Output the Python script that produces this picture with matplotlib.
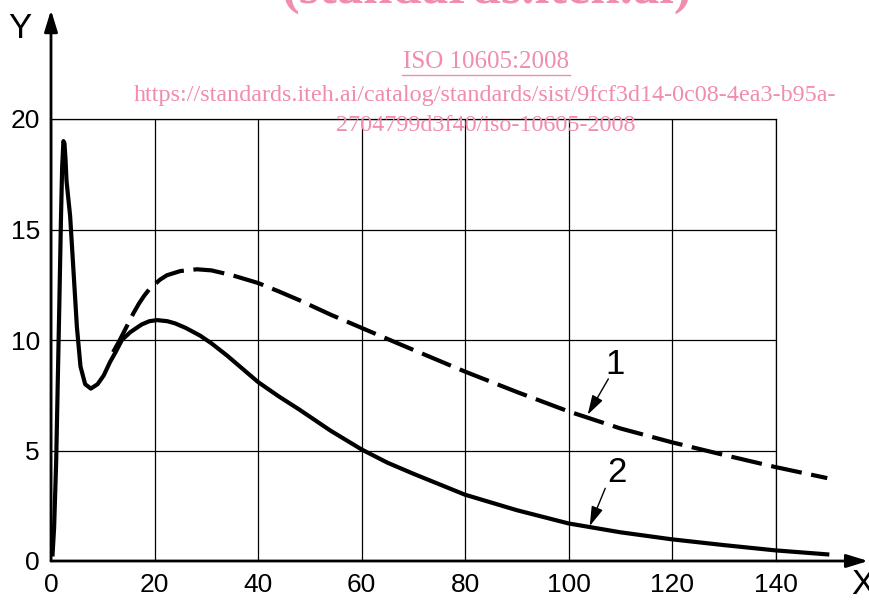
import matplotlib
matplotlib.use('Agg')
import matplotlib.pyplot as plt

# кривая 2 (сплошная)
x2 = [0.3, 0.6, 1.0, 1.3, 1.6, 1.9, 2.15, 2.4, 2.6, 2.8, 3.0, 3.7, 4.3, 5.0, 5.7,
      6.6, 7.7, 9.0, 10.2, 11.4, 12.6, 13.7, 15.3, 17.5, 19.0, 20.5, 22.5, 24.0, 26.0,
      28.8, 31.0, 34.0, 37.0, 40.0, 44.0, 48.0, 54.0, 60.0, 65.0, 70.0, 80.0, 90.0,
      100.0, 110.0, 120.0, 130.0, 140.0, 150.0]
y2 = [0.3, 1.5, 4.5, 8.0, 11.5, 15.2, 17.8, 19.0, 18.9, 18.2, 17.2, 15.6, 13.3, 10.6, 8.8,
      8.0, 7.8, 8.0, 8.4, 9.0, 9.5, 10.0, 10.35, 10.7, 10.85, 10.9, 10.85, 10.75, 10.55,
      10.2, 9.85, 9.3, 8.7, 8.1, 7.45, 6.85, 5.9, 5.05, 4.45, 3.95, 3.0, 2.3,
      1.7, 1.3, 0.98, 0.72, 0.48, 0.3]

# кривая 1 (штриховая)
x1 = [12.0, 13.3, 15.9, 17.0, 18.0, 19.0, 20.0, 21.0, 22.4, 25.0, 28.2, 31.0, 35.0,
      40.0, 44.0, 48.0, 54.0, 60.0, 67.0, 80.0, 90.0, 100.0, 110.0, 120.0, 130.0,
      140.0, 150.0]
y1 = [9.45, 10.0, 11.2, 11.65, 12.0, 12.3, 12.5, 12.72, 12.93, 13.12, 13.2, 13.15, 12.93,
      12.58, 12.2, 11.8, 11.15, 10.55, 9.85, 8.57, 7.65, 6.77, 6.0, 5.37, 4.8,
      4.25, 3.75]

x_ticks = [0, 20, 40, 60, 80, 100, 120, 140]
y_ticks = [0, 5, 10, 15, 20]

pink = '#f08cb0'
sans = ['Liberation Sans', 'DejaVu Sans']
serif = ['Liberation Serif', 'DejaVu Serif']

W, H = 869, 603
fig = plt.figure(figsize=(W / 100, H / 100), dpi=100)
# x: 0 -> 51 px, 5.175 px/unit ; y: 0 -> 561 px, 22.1 px/unit
ax = fig.add_axes([51 / W, (H - 561) / H, 140 * 5.175 / W, 20 * 22.1 / H])
ax.set_xlim(0, 140)
ax.set_ylim(0, 20)

ax.set_xticks(x_ticks)
ax.set_yticks(y_ticks)
ax.set_xticklabels([str(v) for v in x_ticks], fontsize=19, family=sans)
ax.set_yticklabels([str(v) for v in y_ticks], fontsize=19, family=sans)
ax.tick_params(axis='x', length=0, pad=9)
ax.tick_params(axis='y', length=0, pad=8)
ax.grid(True, color='black', linewidth=0.9)
ax.set_axisbelow(True)
for s in ['left', 'bottom']:
    ax.spines[s].set_visible(False)
for s in ['top', 'right']:
    ax.spines[s].set_linewidth(0.9)

ax.plot(x2, y2, color='black', lw=3.0, solid_joinstyle='round', clip_on=False)
ax.plot(x1, y1, color='black', lw=3.0, dashes=(7.5, 2.3), clip_on=False)

# оси со стрелками
arr = dict(arrowstyle='-|>,head_length=0.65,head_width=0.2', lw=2, color='black',
           mutation_scale=20, shrinkA=0, shrinkB=0)
ax.annotate('', xy=(157.9, 0), xytext=(0, 0), arrowprops=arr, annotation_clip=False)
ax.annotate('', xy=(0, 24.93), xytext=(0, 0), arrowprops=arr, annotation_clip=False)
fig.text(20 / W, 1 - 28 / H, 'Y', fontsize=25, family=sans, ha='center', va='center')
fig.text(863 / W, 1 - 585 / H, 'X', fontsize=25, family=sans, ha='center', va='center')

# выноски
lead = dict(arrowstyle='-|>,head_length=0.6,head_width=0.18', lw=1, color='black',
            mutation_scale=20, shrinkA=0, shrinkB=0)
ax.text(109.0, 8.87, '1', fontsize=25, family=sans, ha='center', va='center')
ax.annotate('', xy=(103.7, 6.62), xytext=(107.7, 8.24), arrowprops=lead)
ax.text(109.3, 4.0, '2', fontsize=25, family=sans, ha='center', va='center')
ax.annotate('', xy=(104.1, 1.58), xytext=(107.1, 3.29), arrowprops=lead)

# водяной знак
fig.text(487 / W, 1 - 3 / H, '(standards.iteh.ai)', fontsize=38, family=serif,
         fontweight='bold', color=pink, ha='center', va='baseline')
fig.text(486 / W, 1 - 62 / H, 'ISO 10605:2008', fontsize=18, family=serif,
         color=pink, ha='center', va='center')
fig.text(485 / W, 1 - 95 / H,
         'https://standards.iteh.ai/catalog/standards/sist/9fcf3d14-0c08-4ea3-b95a-',
         fontsize=17.4, family=serif, color=pink, ha='center', va='center')
fig.text(486 / W, 1 - 125 / H, '2704799d3f40/iso-10605-2008', fontsize=17.4,
         family=serif, color=pink, ha='center', va='center')
fig.add_artist(plt.Line2D([402 / W, 570 / W], [1 - 75 / H, 1 - 75 / H], color=pink, lw=1))

fig.savefig('out.png', dpi=100)
